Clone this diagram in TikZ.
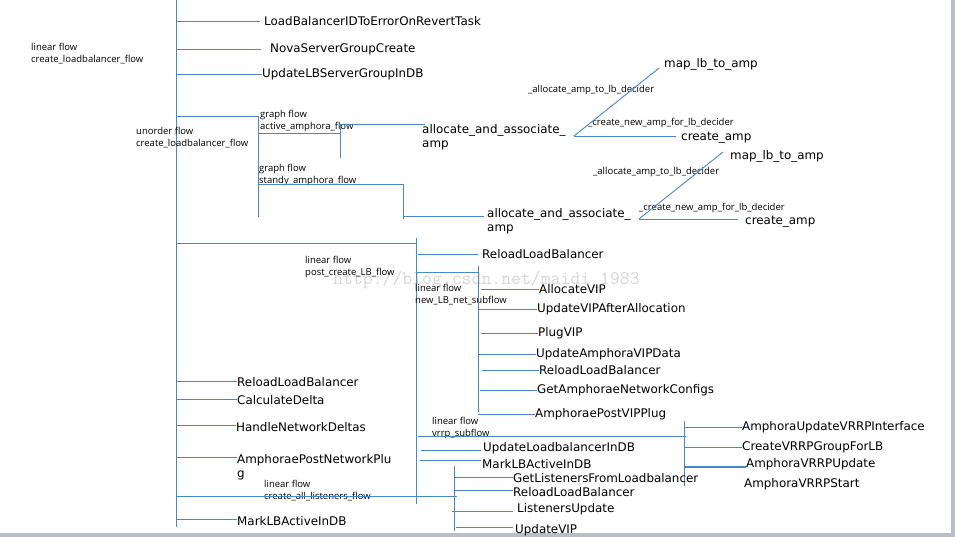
\documentclass[tikz,border=0pt]{standalone}
\usepackage{fontspec}
\setmainfont{DejaVu Sans}
\newfontfamily\flowfont{Open Sans}
\usetikzlibrary{positioning, calc}
\definecolor{linkblue}{RGB}{74,134,204}
\definecolor{pagegray}{RGB}{186,190,201}
\definecolor{markgray}{RGB}{214,214,214}

\begin{document}
\begin{tikzpicture}[
        x=1pt, y=-1pt,
        task/.style={anchor=west, inner sep=0pt, align=left, font=\fontsize{11.9}{14.5}\selectfont},
        flow/.style={anchor=west, inner sep=0pt, align=left, font=\flowfont\fontsize{9.5}{12}\selectfont},
        decider/.style={anchor=west, inner sep=0pt, font=\flowfont\fontsize{9.5}{12}\selectfont},
        link/.style={draw=linkblue, line width=0.9pt},
        watermark/.style={anchor=west, inner sep=0pt, text=markgray, font=\ttfamily\fontsize{19.2}{20}\selectfont},
    ]
        \useasboundingbox (0,0) rectangle (955,537);
        \fill[pagegray] (951,0) rectangle (955,537);
        \fill[pagegray] (0,533) rectangle (955,537);

        % watermark
        \node (wm) [watermark] at (333,280) {http://blog.csdn.net/maidi\_1983};

        % Trunk - create_loadbalancer_flow
        \coordinate (trunk) at (176,0);
        \coordinate (trunkend) at (176,527);
        \draw [link] (trunk) -- (trunkend);
        \node (lflow) [flow] at (31,54) {linear flow\\create\_loadbalancer\_flow};

        % Top tasks
        \node (lbid) [task] at (264,21) {LoadBalancerIDToErrorOnRevertTask};
        \node (novasg) [task] at (270,49) {NovaServerGroupCreate};
        \node (updsg) [task] at (262,74) {UpdateLBServerGroupInDB};
        \draw [link] (trunk |- lbid) -- ([xshift=-4pt]lbid.west);
        \draw [link] (trunk |- novasg) -- ([xshift=-9pt]novasg.west);
        \draw [link] (trunk |- updsg) -- (updsg.west);

        % Unordered flow
        \coordinate (uo) at (258,116);
        \coordinate (uoend) at (258,217);
        \node (uoflow) [flow] at (136,138) {unorder flow\\create\_loadbalancer\_flow};
        \draw [link] (trunk |- uo) -- (uo) -- (uoend);

        % Graph flow - active amphora
        \node (gaflow) [flow] at (260,121) {graph flow\\active\_amphora\_flow};
        \coordinate (ga) at (340,133);
        \coordinate (gatop) at (340,124);
        \coordinate (gabot) at (340,158);
        \node (alloca) [task] at (422,137) {allocate\_and\_associate\_\\amp};
        \draw [link] (uo |- ga) -- (ga);
        \draw [link] (gatop) -- (gabot);
        \draw [link] (gatop) -- ([xshift=3pt]gatop -| alloca.west);

        % Graph flow - standby amphora
        \node (gsflow) [flow] at (259,175) {graph flow\\standy\_amphora\_flow};
        \coordinate (gs) at (403,184);
        \coordinate (gsl) at (403,216);
        \coordinate (gsbot) at (403,219);
        \node (allocs) [task] at (487,221) {allocate\_and\_associate\_\\amp};
        \draw [link] (uo |- gs) -- (gs) -- (gsbot);
        \draw [link] (gsl) -- ([xshift=-3pt]gsl -| allocs.west);

        % Deciders - active
        \coordinate (da) at (574,136);
        \node (map1) [task] at (664,64) {map\_lb\_to\_amp};
        \node (create1) [task] at (681,138) {create\_amp};
        \node (dla) [decider] at (528,90) {\_allocate\_amp\_to\_lb\_decider};
        \node (dca) [decider] at (588,123) {\_create\_new\_amp\_for\_lb\_decider};
        \draw [link] (da) -- ([xshift=-5pt,yshift=2pt]map1.south west);
        \draw [link] (da) -- ([xshift=-5pt]da -| create1.west);

        % Deciders - standby
        \coordinate (db) at (639,219);
        \node (map2) [task] at (730,156) {map\_lb\_to\_amp};
        \node (create2) [task] at (745,222) {create\_amp};
        \node (dlb) [decider] at (593,172) {\_allocate\_amp\_to\_lb\_decider};
        \node (dcb) [decider] at (639,208) {\_create\_new\_amp\_for\_lb\_decider};
        \draw [link] (db) -- ([xshift=-7pt,yshift=4pt]map2.west);
        \draw [link] (db) -- ([xshift=-7pt]db -| create2.west);

        % Linear flow - post_create_LB_flow
        \coordinate (pc) at (416,243);
        \coordinate (pctop) at (416,238);
        \coordinate (pcbot) at (416,504);
        \node (pcflow) [flow] at (305,267) {linear flow\\post\_create\_LB\_flow};
        \draw [link] (trunk |- pc) -- (pc);
        \draw [link] (pctop) -- (pcbot);
        \node (reload1) [task] at (482,254) {ReloadLoadBalancer};
        \draw [link] ([xshift=2pt]pc |- reload1) -- ([xshift=-4pt]reload1.west);

        % Linear flow - new_LB_net_subflow
        \coordinate (ns) at (478,272);
        \coordinate (nstop) at (478,266);
        \coordinate (nsbot) at (478,412);
        \node (nsflow) [flow] at (415,295) {linear flow\\new\_LB\_net\_subflow};
        \draw [link] (pc |- ns) -- (ns);
        \draw [link] (nstop) -- (nsbot);
        \node (allocvip) [task] at (539,289) {AllocateVIP};
        \node (updvip) [task] at (537,309) {UpdateVIPAfterAllocation};
        \node (plugvip) [task] at (538,333) {PlugVIP};
        \node (updampvip) [task] at (536,354) {UpdateAmphoraVIPData};
        \node (reload2) [task] at (539,370) {ReloadLoadBalancer};
        \node (getnet) [task] at (537,390) {GetAmphoraeNetworkConfigs};
        \node (postvip) [task] at (535,414) {AmphoraePostVIPPlug};
        \draw [link] ([xshift=3pt]ns |- allocvip) -- (allocvip.west);
        \draw [link] (ns |- updvip) -- (updvip.west);
        \draw [link] ([xshift=3pt]ns |- plugvip) -- (plugvip.west);
        \draw [link] (ns |- updampvip) -- (updampvip.west);
        \draw [link] ([xshift=4pt]ns |- reload2) -- (reload2.west);
        \draw [link] ([xshift=2pt]ns |- getnet) -- (getnet.west);
        \draw [link] (ns |- postvip) -- (postvip.west);

        % Linear flow - vrrp_subflow
        \coordinate (vr) at (684,436);
        \coordinate (vrtop) at (684,421);
        \coordinate (vrbot) at (684,486);
        \coordinate (vrupd) at (684,467);
        \node (vrflow) [flow] at (432,428) {linear flow\\vrrp\_subflow};
        \draw [link] ([xshift=2pt]pc |- vr) -- ([xshift=2pt]vr);
        \draw [link] (vrtop) -- (vrbot);
        \node (vrrpif) [task] at (742,427) {AmphoraUpdateVRRPInterface};
        \node (vrrpgrp) [task] at (742,447) {CreateVRRPGroupForLB};
        \node (vrrpupd) [task] at (746,464) {AmphoraVRRPUpdate};
        \node (vrrpstart) [task] at (744,484) {AmphoraVRRPStart};
        \draw [link] (vr |- vrrpif) -- (vrrpif.west);
        \draw [link] (vr |- vrrpgrp) -- (vrrpgrp.west);
        \draw [link, line width=1.5pt] (vrupd) -- (vrupd -| vrrpupd.west);

        % Remaining post_create_LB_flow tasks
        \node (updlbdb) [task] at (483,448) {UpdateLoadbalancerInDB};
        \node (markact1) [task] at (482,464) {MarkLBActiveInDB};
        \draw [link] ([xshift=5pt,yshift=-2pt]pc |- updlbdb) -- ([xshift=-2pt,yshift=-2pt]updlbdb.west);
        \draw [link] ([xshift=4pt,yshift=4pt]pc |- markact1) -- ([xshift=-1pt,yshift=4pt]markact1.west);

        % Lower trunk tasks
        \node (reload4) [task] at (237,382) {ReloadLoadBalancer};
        \node (calcd) [task] at (237,400) {CalculateDelta};
        \node (handle) [task] at (236,427) {HandleNetworkDeltas};
        \node (postnet) [task] at (237,467) {AmphoraePostNetworkPlu\\g};
        \node (markact2) [task] at (237,521) {MarkLBActiveInDB};
        \coordinate (pnb) at (176,457);
        \draw [link] ([yshift=1pt]trunk |- reload4) -- ([yshift=1pt]reload4.west);
        \draw [link] ([yshift=1pt]trunk |- calcd) -- ([yshift=1pt]calcd.west);
        \draw [link] ([yshift=2pt]trunk |- handle) -- ([yshift=2pt]handle.west);
        \draw [link] (pnb) -- (pnb -| postnet.west);
        \draw [link] ([yshift=2pt]trunk |- markact2) -- ([yshift=2pt]markact2.west);

        % Linear flow - create_all_listeners_flow
        \coordinate (ls) at (454,496);
        \coordinate (lstop) at (454,466);
        \coordinate (lsbot) at (454,531);
        \node (lsflow) [flow] at (264,491) {linear flow\\create\_all\_listeners\_flow};
        \draw [link] (trunk |- ls) -- ([xshift=3pt]ls);
        \draw [link] (lstop) -- (lsbot);
        \node (getlst) [task] at (513,478) {GetListenersFromLoadbalancer};
        \node (reload3) [task] at (513,492) {ReloadLoadBalancer};
        \node (lstupd) [task] at (517,509) {ListenersUpdate};
        \node (updvip2) [task] at (515,530) {UpdateVIP};
        \draw [link] ([yshift=1pt]ls |- getlst) -- ([yshift=1pt]getlst.west);
        \draw [link] ([yshift=2pt]ls |- reload3) -- ([yshift=2pt]reload3.west);
        \draw [link] ([xshift=-2pt,yshift=-2pt]ls |- lstupd) -- ([xshift=-4pt,yshift=-2pt]lstupd.west);
        \draw [link] ([xshift=2pt,yshift=3pt]ls |- updvip2) -- ([xshift=-2pt,yshift=3pt]updvip2.west);
    \end{tikzpicture}
\end{document}
